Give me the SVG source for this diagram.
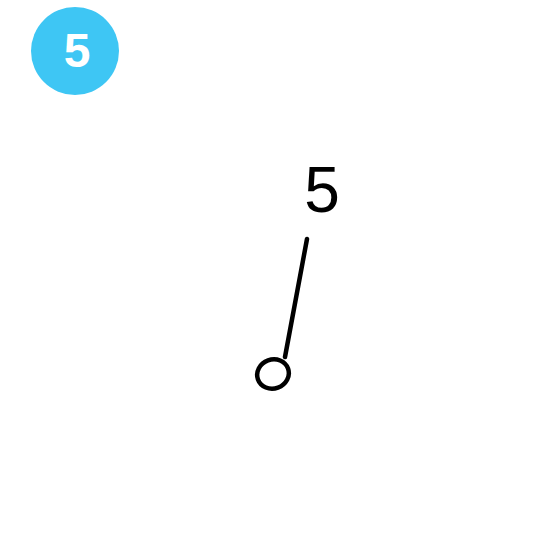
<svg xmlns="http://www.w3.org/2000/svg" width="550" height="550" viewBox="0 0 550 550">
<style>
.badge{fill:#3ec6f4}
.btxt{fill:#fff;font-family:"Liberation Sans",Arial,sans-serif;font-weight:bold;font-size:48px}
.lbl{fill:#000;font-family:"Liberation Sans",Arial,sans-serif;font-size:64px}
.ln{stroke:#000;stroke-width:4.5;fill:none;stroke-linecap:round}
</style>
<rect width="550" height="550" fill="#fff"/>
<g id="badge">
<circle class="badge" cx="75" cy="51" r="44"/>
<text class="btxt" x="77" y="67" text-anchor="middle">5</text>
</g>
<g id="label5">
<text class="lbl" x="322" y="212" text-anchor="middle">5</text>
</g>
<g id="connectors">
<line class="ln" x1="307" y1="239" x2="285" y2="357"/>
<ellipse class="ln" cx="273" cy="374" rx="16" ry="14.5" transform="rotate(-20 273 374)"/>
</g>
</svg>
